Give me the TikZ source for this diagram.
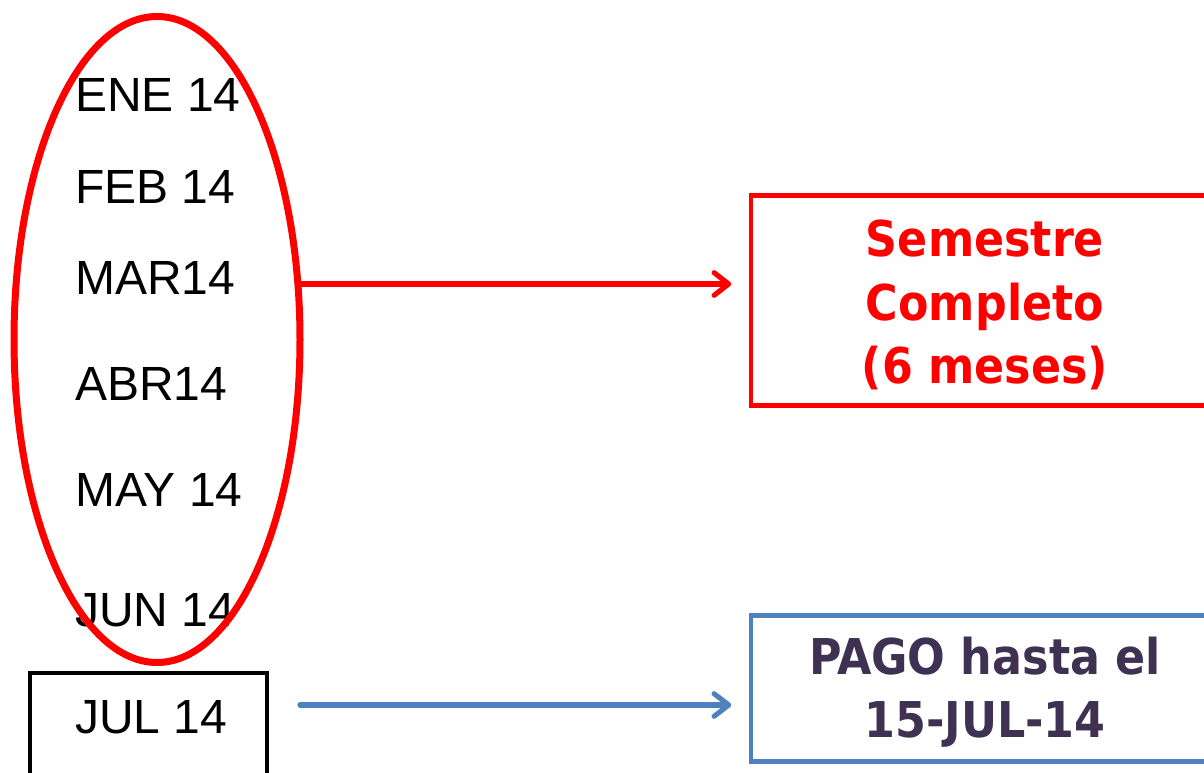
\documentclass[tikz,border=0pt]{standalone}
\usepackage{fontspec}
\setmainfont{Liberation Sans}
\newfontfamily\boxfont{DejaVu Sans Condensed Bold}
\usetikzlibrary{shapes.geometric,arrows.meta}
\definecolor{pptred}{RGB}{255,0,0}
\definecolor{pptblue}{RGB}{79,129,189}
\definecolor{pptpurple}{RGB}{63,49,81}
\begin{document}
\begin{tikzpicture}[x=0.75pt,y=-0.75pt,
  month/.style={anchor=base west, inner sep=0pt, font=\fontsize{36}{43}\selectfont},
  bigtext/.style={align=center, inner sep=0pt, font=\boxfont\fontsize{37}{47.5}\selectfont},
  conn/.style={line width=3.8pt, line cap=round, shorten >=13pt,
    -{Straight Barb[length=11pt,width=17pt,line cap=round,line join=round]}},
]
\useasboundingbox (0,0) rectangle (1204,773);
\clip (0,0) rectangle (1204,773);
\fill[white] (0,0) rectangle (1204,773);

% month labels
\node[month] (ene) at (75,112) {ENE 14};
\node[month] (feb) at (75,204) {FEB 14};
\node[month] (mar) at (75,295) {MAR14};
\node[month] (abr) at (75,401) {ABR14};
\node[month] (may) at (75,507) {MAY 14};
\node[month] (jun) at (75,627) {JUN 14};
\node[month] (jul) at (75,733) {JUL 14};

% ellipse around the six months
\node[ellipse, draw=pptred, line width=5.25pt, minimum width=214.5pt, minimum height=484.5pt, inner sep=0pt] (ell) at (157,339.5) {};

% box around JUL
\node[draw=black, line width=3.6pt, minimum width=177.75pt, minimum height=90pt, anchor=north, inner sep=0pt] (julbox) at (148.5,670.5) {};

% right boxes
\node[draw=pptred, line width=3.6pt, minimum width=351pt, minimum height=158pt] (sem) at (985,300.5) {};
\node[bigtext, text=pptred] (semtxt) at (985,305) {Semestre\\Completo\\(6 meses)};
\node[draw=pptblue, line width=3.6pt, minimum width=351pt, minimum height=109pt] (pago) at (985,688.5) {};
\node[bigtext, text=pptpurple] (pagotxt) at (985,692) {PAGO hasta el\\15-JUL-14};

% connectors
\coordinate (r0) at (300,284);
\coordinate (b0) at (300,705);
\draw[conn, pptred] (r0) -- (sem.west |- r0);
\draw[conn, pptblue] (b0) -- (pago.west |- b0);
\end{tikzpicture}
\end{document}
